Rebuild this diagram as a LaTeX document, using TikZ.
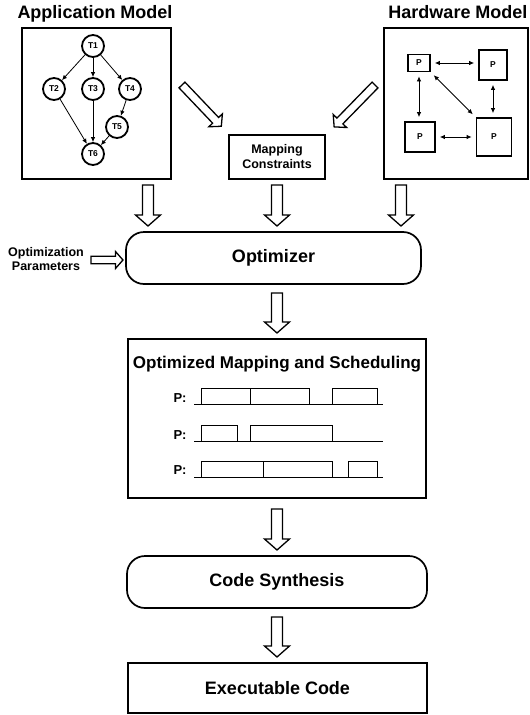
\documentclass[tikz,border=0pt]{standalone}
\usepackage{fontspec}
\setmainfont{Liberation Sans}
\usetikzlibrary{arrows.meta}
\begin{document}
\begin{tikzpicture}[x=1pt, y=-1pt,
      T/.style={draw, line width=1.8pt, circle, minimum size=22pt, inner sep=0pt, font=\bfseries\fontsize{8.5}{9}\selectfont},
      P/.style={draw, line width=1.8pt, inner sep=0pt, font=\bfseries\fontsize{8.5}{9}\selectfont},
      B/.style={draw, line width=1.7pt, inner sep=0pt},
      R/.style={B, rounded corners=18pt},
      big/.style={font=\bfseries\fontsize{18}{21}\selectfont},
      small/.style={font=\bfseries\fontsize{12.5}{14}\selectfont, align=center},
      e/.style={-{Latex[length=5pt,width=4.5pt]}, line width=0.8pt},
      ee/.style={{Latex[length=5pt,width=4.5pt]}-{Latex[length=5pt,width=4.5pt]}, line width=0.8pt, shorten >=4pt, shorten <=4pt},
      tl/.style={line width=0.9pt},
      hollow/.pic={\draw[line width=1.3pt, fill=white] (0,-5.5) -- (#1-11,-5.5) -- (#1-11,-12.5) -- (#1,0) -- (#1-11,12.5) -- (#1-11,5.5) -- (0,5.5) -- cycle;}
    ]
    \useasboundingbox (0,0) rectangle (530,715);
    % inputs
    \node [big, anchor=base] (ta) at (95,18) {Application Model};
    \node [big, anchor=base] (th) at (458,18) {Hardware Model};
    \node [B, minimum width=149pt, minimum height=151pt] (app) at (96.5,103.5) {};
    \node [B, minimum width=144pt, minimum height=151pt] (hw) at (456,103.5) {};
    \node [T] (t1) at (93,46) {T1};
    \node [T] (t2) at (54,89) {T2};
    \node [T] (t3) at (93,89) {T3};
    \node [T] (t4) at (130,89) {T4};
    \node [T] (t5) at (117,127) {T5};
    \node [T] (t6) at (93,154) {T6};
    \draw [e] (t1) -- (t2);
    \draw [e] (t1) -- (t3);
    \draw [e] (t1) -- (t4);
    \draw [e] (t4) -- (t5);
    \draw [e] (t2) -- (t6);
    \draw [e] (t3) -- (t6);
    \draw [e] (t5) -- (t6);
    \node [P, minimum width=22pt, minimum height=17pt] (p1) at (419,63) {P};
    \node [P, minimum width=28pt, minimum height=30pt] (p2) at (493,65) {P};
    \node [P, minimum width=30pt, minimum height=30pt] (p3) at (420,137) {P};
    \node [P, minimum width=35pt, minimum height=38pt] (p4) at (494,137) {P};
    \draw [ee] (p1.east) -- (p2.west |- p1.east);
    \draw [ee] (p1.south) -- (p3.north -| p1.south);
    \draw [ee] (p1.south east) -- (p4.north west);
    \draw [ee] (p2.south) -- (p4.north -| p2.south);
    \draw [ee] (p3.east) -- (p4.west |- p3.east);
    \node [B, small, minimum width=96pt, minimum height=44pt, font=\bfseries\fontsize{12.5}{15}\selectfont] (map) at (277,157) {Mapping\\Constraints};
    \pic [rotate=-46.4, scale=0.75] at (182,85) {hollow=76};
    \pic [rotate=-134.3, scale=0.75] at (375,85) {hollow=78};
    % flow
    \pic [rotate=-90] at (148,185) {hollow=41};
    \pic [rotate=-90] at (277,185) {hollow=41};
    \pic [rotate=-90] at (401,185) {hollow=41};
    \node [small] (op) at (46,259) {Optimization\\Parameters};
    \pic [scale=0.68] at (91,260) {hollow=47};
    \node [R, big, minimum width=295pt, minimum height=52pt] (opt) at (273.5,258) {Optimizer};
    \pic [rotate=-90] at (277,293) {hollow=40};
    \node [B, minimum width=298pt, minimum height=159pt] (sched) at (277,418.5) {};
    \node [font=\bfseries\fontsize{17}{20}\selectfont] (st) at (277,364) {Optimized Mapping and Scheduling};
    \node [font=\bfseries\fontsize{13}{15}\selectfont] (r1) at (180,398) {P:};
    \node [font=\bfseries\fontsize{13}{15}\selectfont] (r2) at (180,435) {P:};
    \node [font=\bfseries\fontsize{13}{15}\selectfont] (r3) at (180,470) {P:};
    \draw [tl] (194,404) -- (383,404);
    \draw [tl] (201,404) rectangle (250,388) (250,404) rectangle (309,388) (332,404) rectangle (377,388);
    \draw [tl] (194,441) -- (383,441);
    \draw [tl] (201,441) rectangle (237,425) (250,441) rectangle (332,425);
    \draw [tl] (194,477) -- (383,477);
    \draw [tl] (201,477) rectangle (263,461) (263,477) rectangle (332,461) (348,477) rectangle (377,461);
    \pic [rotate=-90] at (277,509) {hollow=41};
    \node [R, big, minimum width=300pt, minimum height=52pt] (cs) at (277,582) {Code Synthesis};
    \pic [rotate=-90] at (277,617) {hollow=40};
    \node [B, big, minimum width=299pt, minimum height=50pt] (ex) at (277.5,688) {Executable Code};
  \end{tikzpicture}
\end{document}
